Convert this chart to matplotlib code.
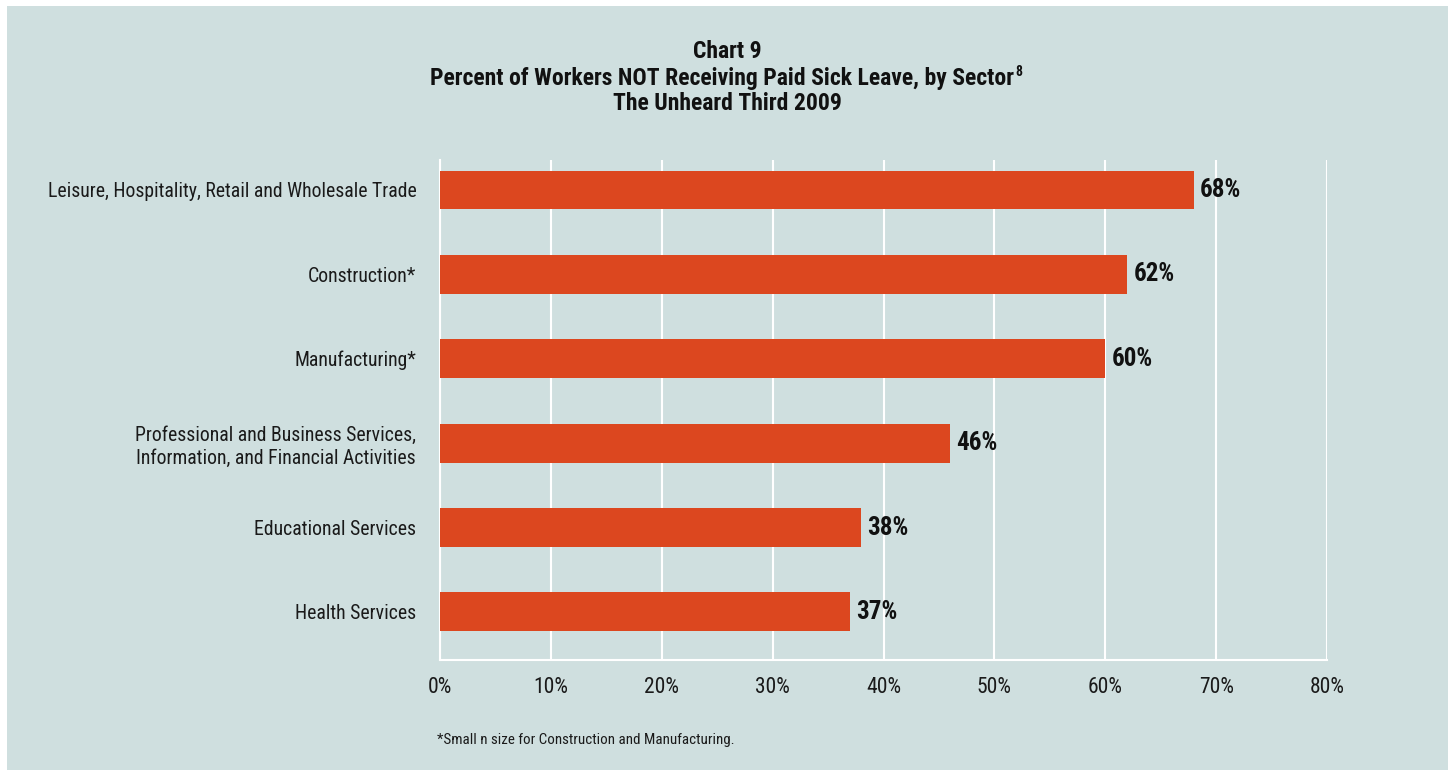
import matplotlib.pyplot as plt
from matplotlib.patches import Rectangle

# Sector data
sectors = [
    'Leisure, Hospitality, Retail and Wholesale Trade',
    'Construction*',
    'Manufacturing*',
    'Professional and Business Services,\nInformation, and Financial Activities',
    'Educational Services',
    'Health Services',
]
pct_no_sick_leave = [68, 62, 60, 46, 38, 37]
x_ticks = [0, 10, 20, 30, 40, 50, 60, 70, 80]
x_tick_labels = [f'{t}%' for t in x_ticks]

PANEL = '#cfdfdf'
BAR = '#dc471f'
FONT = ['Roboto Condensed', 'Liberation Sans Narrow', 'Roboto', 'DejaVu Sans']

plt.rcParams['font.family'] = FONT

fig = plt.figure(figsize=(14.48, 7.7), dpi=100, facecolor='white')
fig.patches.append(Rectangle((7 / 1448, 0), 1 - 7 / 1448, 1 - 6 / 770,
                             transform=fig.transFigure, facecolor=PANEL,
                             edgecolor='none', zorder=-10))

ax = fig.add_axes([440 / 1448, 110 / 770, 887 / 1448, 500 / 770])
ax.set_facecolor('none')

ypos = list(range(len(sectors)))
ax.barh(ypos, pct_no_sick_leave, height=0.46, color=BAR, zorder=3)

for y, v in zip(ypos, pct_no_sick_leave):
    ax.text(v + 0.55, y, f'{v}%', va='center', ha='left', fontsize=18,
            fontweight='bold', color='#111111')

ax.set_xlim(0, 80)
ax.set_ylim(len(sectors) - 1 + 0.57, -0.355)
ax.set_xticks(x_ticks)
ax.set_xticklabels(x_tick_labels, fontsize=15.5, color='#1a1a1a')
ax.set_yticks(ypos)
ax.set_yticklabels(sectors, fontsize=14.2, color='#1a1a1a',
                   multialignment='center', linespacing=1.27)
ax.tick_params(axis='both', length=0)
ax.tick_params(axis='x', pad=12)
ax.tick_params(axis='y', pad=17)

ax.grid(axis='x', color='white', linewidth=1.5, zorder=0)
for side in ['top', 'right']:
    ax.spines[side].set_visible(False)
for side in ['left', 'bottom']:
    ax.spines[side].set_color('white')
    ax.spines[side].set_linewidth(1.5)

# three-line heading, with a small footnote marker after "Sector"
title_kw = dict(ha='center', va='center', fontsize=17, fontweight='bold',
                color='#111111')
fig.text(727 / 1448, 1 - 52 / 770, 'Chart 9', **title_kw)
sub = fig.text(722 / 1448, 1 - 78 / 770,
               'Percent of Workers NOT Receiving Paid Sick Leave, by Sector',
               **title_kw)
fig.text(727 / 1448, 1 - 103 / 770, 'The Unheard Third 2009', **title_kw)

fig.canvas.draw()
bb = sub.get_window_extent().transformed(fig.transFigure.inverted())
fig.text(bb.x1 + 1 / 1448, bb.y1 + 1 / 770, '8', ha='left', va='top',
         fontsize=10, fontweight='bold', color='#111111')

fig.text(437 / 1448, 1 - 740 / 770,
         '*Small n size for Construction and Manufacturing.',
         ha='left', va='center', fontsize=10.8, color='#1a1a1a')

fig.savefig('out.png', dpi=100, facecolor='white')
